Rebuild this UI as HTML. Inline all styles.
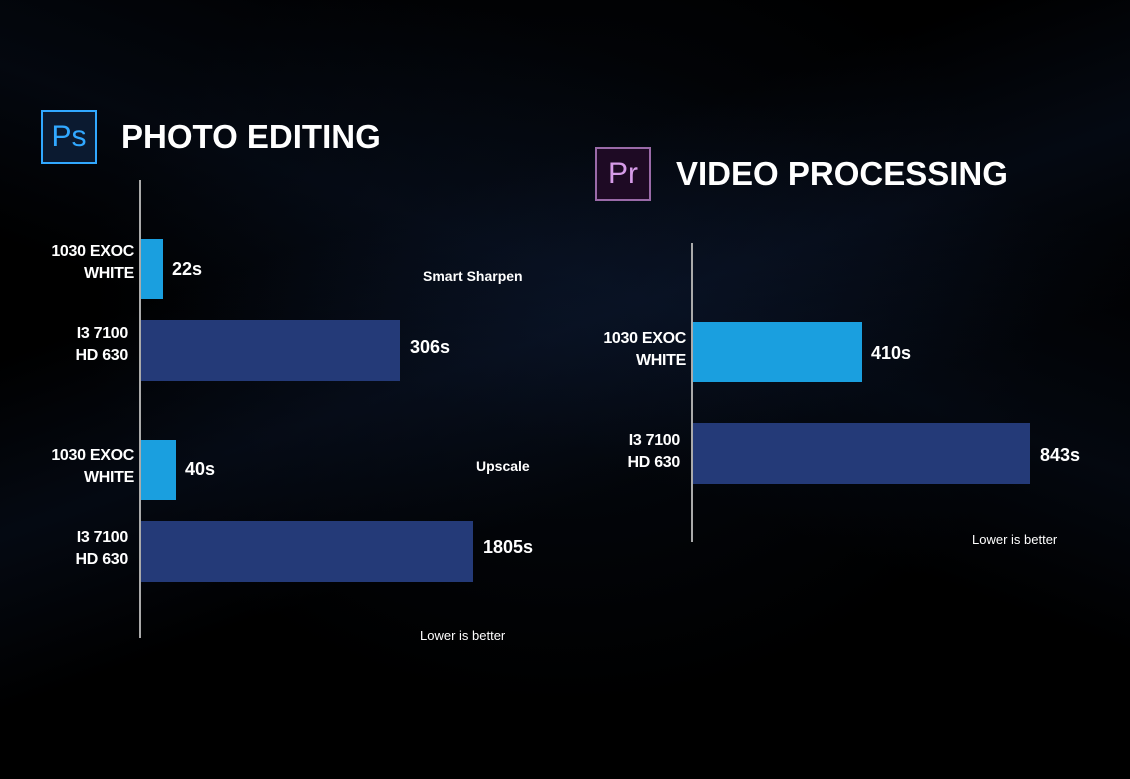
<!DOCTYPE html>
<html><head><meta charset="utf-8"><style>
body{margin:0;width:1130px;height:779px;overflow:hidden;background:#000;position:relative;font-family:"Liberation Sans",sans-serif;color:#fff}
.a{position:absolute;white-space:nowrap}
.bg{position:absolute;inset:0;background:
linear-gradient(160deg,rgba(0,0,0,0) 30%,rgba(15,30,60,.3) 45%,rgba(0,0,0,0) 60%),
linear-gradient(200deg,rgba(0,0,0,0) 20%,rgba(12,25,50,.3) 40%,rgba(0,0,0,0) 55%),
radial-gradient(ellipse at 50% 40%,rgba(12,24,45,.4),rgba(0,0,0,0) 60%);}
.lb{font-weight:bold;font-size:16px;text-align:right;line-height:22px;width:120px;letter-spacing:-0.3px}
.v{font-weight:bold;font-size:18px}
.t{font-weight:bold;font-size:33px}
.s{font-size:14px;font-weight:bold}
.lo{font-size:13px}
.lt{background:#1a9fdf}.dk{background:#243a78}
</style></head><body>
<div class="bg"></div>
<div class="a" style="left:41px;top:110px;width:52px;height:50px;border:2px solid #31a8ff;background:#0b1a30;color:#31a8ff;font-size:30px;line-height:50px;text-align:center">Ps</div>
<div class="a t" style="left:121px;top:118px">PHOTO EDITING</div>
<div class="a" style="left:595px;top:147px;width:52px;height:50px;border:2px solid #9a6aa8;background:#1e0a24;color:#d69be8;font-size:30px;line-height:50px;text-align:center">Pr</div>
<div class="a t" style="left:676px;top:155px">VIDEO PROCESSING</div>

<div class="a" style="left:139px;top:180px;width:2px;height:458px;background:#aaa"></div>
<div class="a lt" style="left:141px;top:239px;width:22px;height:60px"></div>
<div class="a dk" style="left:141px;top:320px;width:259px;height:61px"></div>
<div class="a lt" style="left:141px;top:440px;width:35px;height:60px"></div>
<div class="a dk" style="left:141px;top:521px;width:332px;height:61px"></div>
<div class="a lb" style="left:14px;top:241px">1030 EXOC<br>WHITE</div>
<div class="a lb" style="left:8px;top:323px">I3 7100<br>HD 630</div>
<div class="a lb" style="left:14px;top:445px">1030 EXOC<br>WHITE</div>
<div class="a lb" style="left:8px;top:527px">I3 7100<br>HD 630</div>
<div class="a v" style="left:172px;top:259px">22s</div>
<div class="a v" style="left:410px;top:337px">306s</div>
<div class="a v" style="left:185px;top:459px">40s</div>
<div class="a v" style="left:483px;top:537px">1805s</div>
<div class="a s" style="left:423px;top:268px">Smart Sharpen</div>
<div class="a s" style="left:476px;top:458px">Upscale</div>
<div class="a lo" style="left:420px;top:628px">Lower is better</div>

<div class="a" style="left:691px;top:243px;width:2px;height:299px;background:#aaa"></div>
<div class="a lt" style="left:693px;top:322px;width:169px;height:60px"></div>
<div class="a dk" style="left:693px;top:423px;width:337px;height:61px"></div>
<div class="a lb" style="left:566px;top:328px">1030 EXOC<br>WHITE</div>
<div class="a lb" style="left:560px;top:430px">I3 7100<br>HD 630</div>
<div class="a v" style="left:871px;top:343px">410s</div>
<div class="a v" style="left:1040px;top:445px">843s</div>
<div class="a lo" style="left:972px;top:532px">Lower is better</div>
</body></html>
